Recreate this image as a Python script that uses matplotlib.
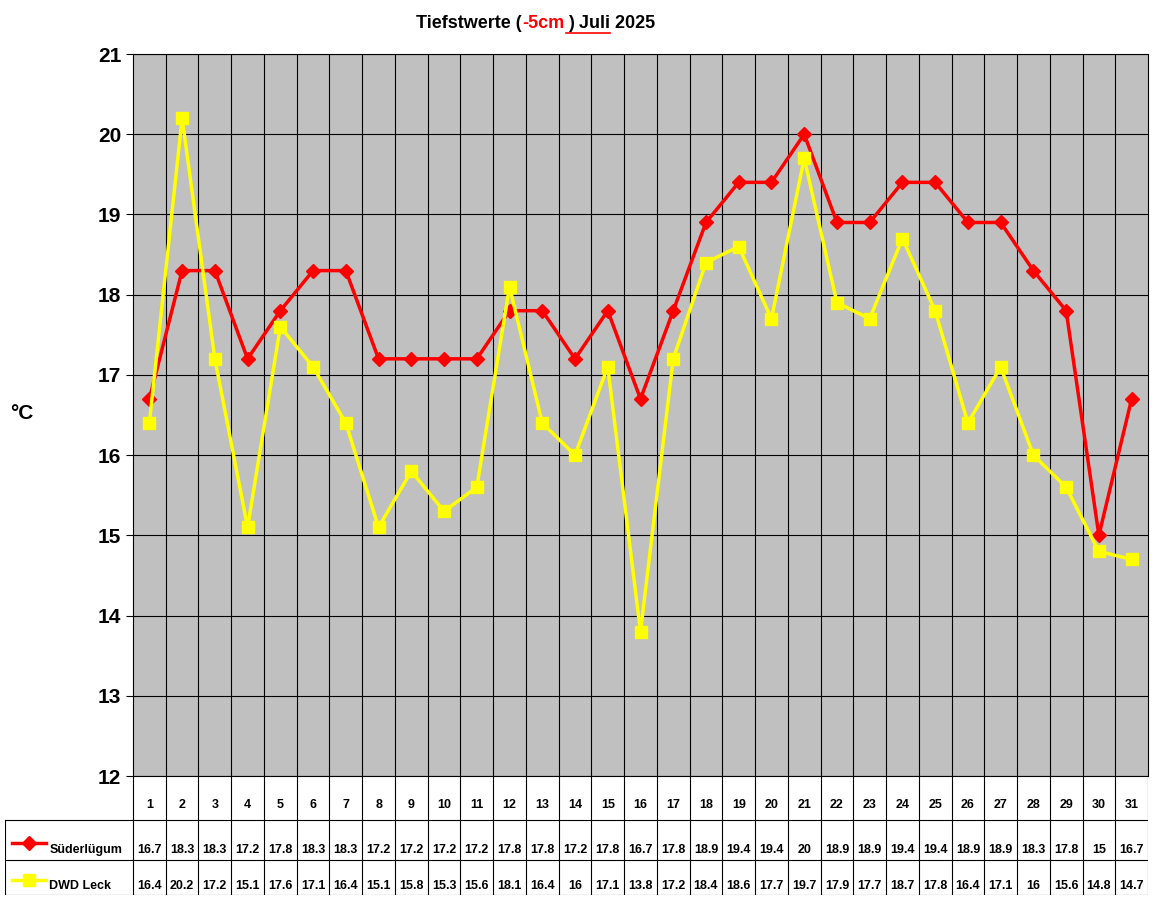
import matplotlib
matplotlib.use("Agg")
import matplotlib.pyplot as plt

plt.rcParams['font.family'] = ['Liberation Sans', 'DejaVu Sans']

days = list(range(1, 32))
suederluegum = [16.7, 18.3, 18.3, 17.2, 17.8, 18.3, 18.3, 17.2, 17.2, 17.2, 17.2, 17.8, 17.8, 17.2, 17.8, 16.7,
                17.8, 18.9, 19.4, 19.4, 20, 18.9, 18.9, 19.4, 19.4, 18.9, 18.9, 18.3, 17.8, 15, 16.7]
dwd_leck = [16.4, 20.2, 17.2, 15.1, 17.6, 17.1, 16.4, 15.1, 15.8, 15.3, 15.6, 18.1, 16.4, 16, 17.1, 13.8,
            17.2, 18.4, 18.6, 17.7, 19.7, 17.9, 17.7, 18.7, 17.8, 16.4, 17.1, 16, 15.6, 14.8, 14.7]
series = [("Süderlügum", suederluegum, "#ff0000", "D"), ("DWD Leck", dwd_leck, "#ffff00", "s")]

W, H = 1152, 900
fig = plt.figure(figsize=(W / 100, H / 100), dpi=100)
x0, x1, ytop, ybot = 133, 1148, 54, 776
ax = fig.add_axes([x0 / W, 1 - ybot / H, (x1 - x0) / W, (ybot - ytop) / H])
ax.set_facecolor("#c0c0c0")
for name, vals, col, mk in series:
    ax.plot(days, vals, color=col, lw=2.5, marker=mk, ms=8 if mk == "s" else 7, zorder=3)
ax.set_xlim(0.5, 31.5)
ax.set_ylim(12, 21)
ax.set_yticks(range(12, 22))
ax.set_xticks([d + 0.5 for d in days[:-1]])
ax.tick_params(axis='x', length=0, labelbottom=False)
ax.tick_params(axis='y', labelsize=15, length=5)
for lab in ax.get_yticklabels():
    lab.set_fontweight('bold')
ax.grid(True, color="black", lw=0.8)
for s in ax.spines.values():
    s.set_color("black")
fig.text(10 / W, 1 - 414 / H, "°C", fontsize=15, fontweight='bold', va='center')

# title
fig.text(0.5 - 0.047, 1 - 24 / H, "Tiefstwerte (", fontsize=13, fontweight='bold', ha='right', va='center')
fig.text(0.5 - 0.047, 1 - 24 / H, "-5cm", fontsize=13, fontweight='bold', color='red', ha='left', va='center')
fig.add_artist(plt.Line2D([566 / W, 610 / W], [1 - 33 / H, 1 - 33 / H], color='red', lw=1.2))
fig.text(0.5 - 0.047 + 46 / W, 1 - 24 / H, ") Juli 2025", fontsize=13, fontweight='bold', ha='left', va='center')

# data table
tb_bottom = 895
cw = (x1 - x0) / 31
left_ext = (x0 - 5) / cw
tax = fig.add_axes([5 / W, 1 - tb_bottom / H, (x1 - 5) / W, (tb_bottom - ybot) / H])
tax.set_xlim(0.5 - left_ext, 31.5)
tax.set_ylim(tb_bottom, ybot)
tax.axis('off')
xl = 0.5 - left_ext
tax.plot([0.5, 0.5], [ybot, tb_bottom], color='black', lw=0.8)
for d in days:
    tax.plot([d + 0.5, d + 0.5], [ybot, tb_bottom], color='black', lw=0.8)
    tax.text(d, 805, str(d), ha='center', va='center', fontsize=9, fontweight='bold')
for yy in (820, 860, 895):
    tax.plot([xl, 31.5], [yy, yy], color='black', lw=0.8)
tax.plot([xl, xl], [820, 895], color='black', lw=0.8)
for (name, vals, col, mk), yrow, yline in zip(series, (850, 886), (843, 880)):
    tax.plot([xl + 0.2, xl + 1.25], [yline, yline], color=col, lw=2.5)
    tax.plot([xl + 0.72], [yline], color=col, marker=mk, ms=8 if mk == "s" else 7)
    tax.text(xl + 1.35, yrow, name, ha='left', va='center', fontsize=9, fontweight='bold')
    for d, v in zip(days, vals):
        tax.text(d, yrow, f"{v:g}", ha='center', va='center', fontsize=9, fontweight='bold')

fig.savefig("out.png", dpi=100, facecolor='white')
